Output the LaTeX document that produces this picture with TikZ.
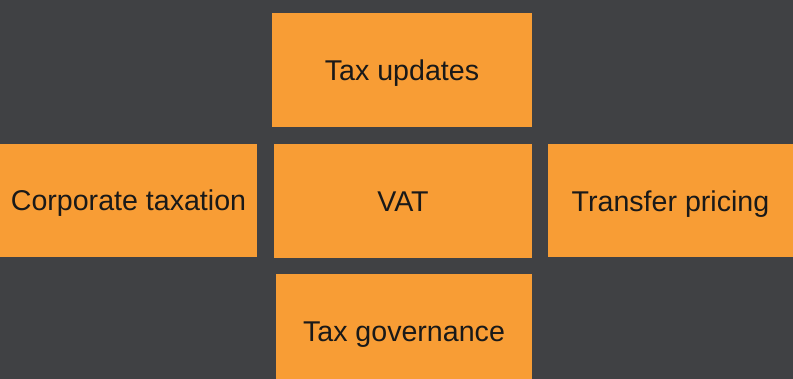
\documentclass[tikz,border=0pt]{standalone}
\usepackage{fontspec}
\setmainfont{Liberation Sans}
\usetikzlibrary{positioning}
\definecolor{boardgray}{HTML}{404144}
\definecolor{taxorange}{HTML}{F89D35}

\begin{document}
\begin{tikzpicture}[x=1pt,y=1pt,
    topic/.style={rectangle,fill=taxorange,text=black!90,inner sep=0pt,
      font=\fontsize{28.6}{31}\selectfont,text height=20.5pt,text depth=0pt}]
     \fill[boardgray] (0,0) rectangle (793,379);
     \useasboundingbox (0,0) rectangle (793,379);
     \node[topic,minimum width=260pt,minimum height=114pt] (updates) at (402,309) {Tax updates};
     \node[topic,minimum width=258pt,minimum height=114pt] (vat) at (403,178) {VAT};
     \node[topic,minimum width=257pt,minimum height=113pt] (corporate) at (128.5,178.5) {Corporate taxation};
     \node[topic,minimum width=245pt,minimum height=113pt] (transfer) at (670.5,178) {Transfer pricing};
     \node[topic,minimum width=256pt,minimum height=114pt] (governance) at (404,48) {Tax governance};
   \end{tikzpicture}
\end{document}
